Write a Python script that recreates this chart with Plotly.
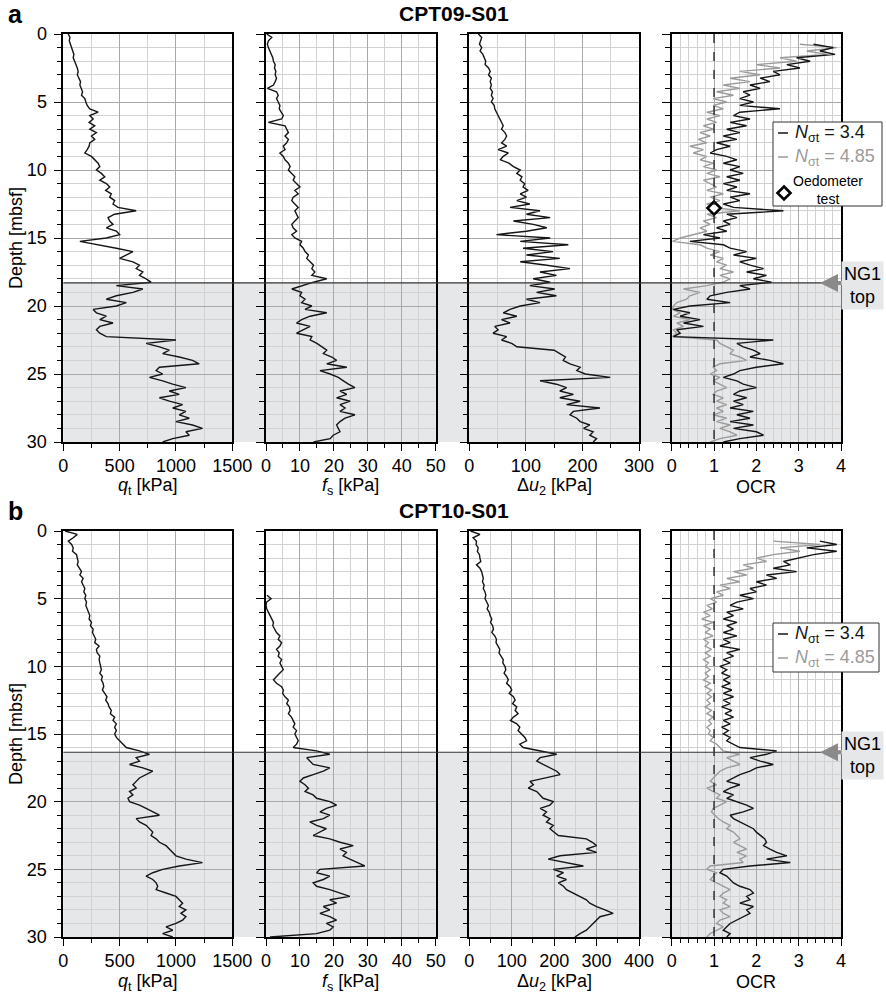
import plotly.graph_objects as go

W, H = 886, 993
FONT = "Liberation Sans, Arial, Helvetica, sans-serif"

# ---------------- data ----------------
DEPTH_STEP = 0.25
depth = [round(i * DEPTH_STEP, 2) for i in range(121)]  # 0 ... 30 mbsf

# CPT09-S01
qt_09 = [44, 59, 53, 65, 74, 82, 94, 88, 103, 112, 124, 132, 124, 141, 153, 147, 162, 171, 162, 191,
         200, 212, 235, 309, 235, 265, 229, 279, 235, 294, 250, 279, 235, 229, 212, 191, 250, 279, 309, 324,
         294, 338, 368, 324, 382, 412, 376, 426, 412, 456, 441, 485, 647, 456, 397, 412, 441, 382, 471, 500,
         382, 147, 324, 471, 618, 559, 500, 618, 676, 647, 706, 676, 735, 779, 471, 706, 618, 471, 382, 559,
         471, 265, 294, 382, 324, 441, 324, 294, 324, 382, 1000, 735, 853, 941, 882, 1029, 1147, 1206, 853, 824,
         882, 765, 882, 971, 1088, 941, 1029, 853, 941, 1059, 971, 1088, 1029, 1118, 1000, 1147, 1235, 1088, 1118, 971, 882]
fs_09 = [0.2, 1.7, 0.7, 0.4, 0.7, 1.2, 1.7, 2.0, 2.2, 2.7, 2.5, 2.9, 2.7, 3.1, 2.7, 2.2, 0.4, 3.1, 3.6, 3.1,
         3.6, 4.1, 3.9, 4.6, 5.1, 4.6, 0.7, 5.6, 6.1, 6.6, 5.6, 6.6, 6.1, 5.1, 5.6, 4.1, 5.1, 5.6, 6.6, 7.1,
         6.6, 7.6, 8.5, 8.0, 9.0, 10.0, 8.5, 9.5, 8.0, 7.6, 8.5, 9.5, 8.5, 9.0, 9.5, 8.5, 7.6, 8.0, 9.0, 7.6,
         8.5, 10.5, 10.0, 11.0, 11.5, 12.5, 12.0, 13.0, 14.0, 13.5, 14.4, 13.5, 17.9, 14.0, 10.5, 7.6, 10.5, 10.0, 11.5, 10.5,
         13.5, 11.5, 17.9, 13.0, 10.5, 9.0, 13.0, 11.0, 9.0, 13.5, 13.0, 15.0, 16.4, 17.9, 16.9, 19.4, 20.8, 17.9, 23.8, 15.9,
         18.9, 21.3, 22.8, 24.3, 26.2, 21.8, 23.8, 20.8, 24.8, 21.8, 23.3, 21.8, 26.2, 23.3, 21.8, 20.8, 21.3, 21.8, 19.8, 18.9, 14.0]
du2_09 = [16, 22, 20, 18, 22, 19, 24, 26, 29, 28, 34, 37, 34, 39, 37, 39, 37, 41, 39, 42,
          39, 44, 45, 48, 51, 54, 57, 60, 57, 63, 66, 63, 57, 66, 51, 69, 60, 55, 70, 78,
          90, 84, 93, 90, 98, 95, 104, 90, 101, 84, 107, 72, 125, 101, 143, 78, 113, 137, 101, 48,
          143, 90, 175, 95, 148, 101, 160, 90, 137, 178, 125, 154, 113, 143, 107, 151, 119, 154, 101, 125,
          90, 72, 60, 84, 57, 72, 45, 51, 42, 66, 57, 75, 84, 150, 160, 170, 166, 178, 196, 190,
          205, 249, 125, 154, 172, 160, 184, 160, 196, 172, 231, 184, 178, 190, 196, 213, 202, 219, 213, 225, 219]
ocr_09_n340 = [None, None, None, 3.35, 3.82, 3.5, 3.86, 2.95, 3.27, 2.72, 3.03, 2.4, 2.56, 2.09, 2.32, 1.85, 2.09, 1.69, 1.85, 1.61,
               1.93, 1.61, 2.56, 1.61, 1.46, 1.85, 1.38, 1.77, 1.3, 1.61, 1.22, 1.54, 1.06, 1.38, 1.06, 0.91, 1.3, 1.54, 1.22, 1.61,
               1.38, 1.69, 1.3, 1.61, 1.22, 1.54, 1.3, 1.85, 1.38, 1.61, 1.22, 1.46, 2.64, 1.3, 1.54, 1.22, 1.38, 1.06, 1.3, 0.75,
               1.14, 0.43, 1.22, 1.38, 1.77, 1.46, 2.0, 1.61, 1.85, 2.17, 1.77, 2.24, 1.93, 2.36, 1.61, 1.85, 1.3, 0.91, 0.83, 1.38,
               0.43, 0.04, 0.43, 0.2, 0.67, 0.28, 0.75, 0.12, 0.2, 0.04, 2.4, 1.54, 1.69, 1.93, 2.09, 1.85, 2.32, 2.64, 2.0, 1.61,
               1.46, 1.22, 1.54, 1.69, 2.0, 1.61, 1.46, 1.77, 1.46, 1.69, 1.38, 1.93, 1.54, 1.85, 1.38, 1.93, 1.46, 2.0, 2.17, 1.61, 1.22]
ocr_09_n485 = [None, None, None, 3.03, 3.9, 3.19, 3.66, 2.56, 2.95, 2.0, 2.56, 1.61, 2.09, 1.38, 1.85, 1.22, 1.61, 1.06, 1.46, 0.98,
               1.3, 0.98, 1.22, 0.83, 1.14, 0.83, 1.06, 0.75, 0.98, 0.67, 0.91, 0.63, 0.83, 0.43, 0.75, 0.51, 0.83, 0.67, 0.98, 0.75,
               1.06, 0.83, 1.14, 0.75, 0.91, 1.06, 0.83, 1.22, 0.91, 1.14, 0.83, 0.98, 1.61, 0.83, 1.06, 0.75, 0.91, 0.67, 0.83, 0.51,
               0.2, 0.02, 0.67, 0.83, 1.14, 0.91, 1.22, 1.06, 1.3, 1.14, 1.46, 1.14, 1.38, 1.22, 0.83, 0.28, 0.67, 0.43, 0.35, 0.12,
               0.04, 0.02, 0.2, 0.04, 0.43, 0.12, 0.28, 0.04, 0.12, 0.02, 1.06, 1.14, 1.3, 1.46, 1.38, 1.61, 1.77, 1.14, 0.98, 1.06,
               0.91, 1.14, 0.98, 1.14, 1.3, 1.06, 0.98, 1.22, 1.06, 1.3, 1.06, 1.22, 0.98, 1.3, 1.06, 1.38, 1.14, 1.38, 1.54, 1.14, 0.91]
oedometer_ocr = [1.0]
oedometer_depth = [12.8]
ng1_top_09 = 18.3

# CPT10-S01
qt_10 = [15, 124, 88, 44, 74, 88, 82, 118, 124, 132, 124, 147, 162, 147, 176, 162, 176, 191, 182, 200,
         191, 206, 200, 212, 221, 235, 229, 250, 241, 265, 259, 271, 288, 279, 318, 294, 300, 324, 318, 324,
         329, 338, 324, 347, 338, 353, 359, 347, 368, 388, 376, 397, 406, 426, 418, 456, 441, 471, 456, 471,
         456, 471, 500, 529, 559, 676, 765, 647, 676, 588, 706, 794, 735, 676, 647, 618, 647, 588, 618, 574,
         588, 676, 735, 794, 853, 647, 676, 735, 765, 794, 779, 824, 853, 912, 941, 971, 1000, 1088, 1235, 1029,
         882, 794, 735, 794, 824, 838, 824, 912, 1000, 1029, 1059, 1029, 1088, 1044, 1088, 1059, 1000, 912, 971, 882, 971]
fs_10 = [None, None, None, None, None, None, None, None, None, None,
         None, None, None, None, None, None, None, None, None, 0.3,
         1.5, 0.2, 0.0, 0.2, 0.7, 1.2, 1.7, 2.2, 2.0, 2.6, 3.1, 4.1, 3.6, 4.6, 4.1, 3.1, 3.9, 3.6, 4.6, 4.1,
         4.6, 5.1, 4.1, 3.1, 2.2, 3.1, 4.6, 5.1, 4.9, 5.6, 6.6, 6.1, 6.9, 7.1, 6.6, 7.5, 8.0, 8.5, 8.0, 9.0,
         8.5, 9.0, 9.5, 9.0, 8.0, 14.9, 18.8, 12.0, 12.9, 13.9, 18.8, 16.9, 13.9, 11.0, 10.0, 11.5, 12.5, 11.5, 13.9, 14.9,
         18.8, 20.8, 17.8, 15.9, 18.8, 16.9, 12.9, 14.9, 17.8, 15.9, 13.9, 18.8, 21.8, 25.7, 21.8, 23.7, 22.7, 24.7, 26.7, 29.1,
         15.9, 14.9, 18.8, 16.9, 13.9, 14.9, 18.8, 21.8, 24.7, 18.8, 20.8, 16.9, 18.8, 15.9, 18.8, 20.8, 17.8, 19.8, 18.8, 14.9, 1.2]
du2_10 = [3, 25, 9, 17, 16, 21, 19, 24, 25, 27, 17, 25, 29, 31, 33, 31, 35, 33, 37, 39,
          37, 41, 45, 42, 47, 49, 53, 50, 55, 57, 53, 60, 64, 63, 68, 72, 70, 76, 80, 79,
          84, 86, 82, 88, 92, 88, 96, 100, 94, 104, 108, 102, 112, 108, 115, 104, 97, 112, 119, 115,
          123, 131, 135, 119, 127, 167, 206, 167, 159, 174, 190, 206, 214, 182, 143, 151, 139, 159, 167, 174,
          198, 190, 167, 182, 174, 190, 182, 198, 190, 200, 210, 276, 290, 300, 276, 300, 214, 186, 230, 269,
          198, 222, 206, 229, 210, 222, 229, 245, 261, 276, 284, 300, 320, 339, 308, 300, 292, 284, 276, 261, 249]
ocr_10_n340 = [None, None, None, 3.5, 3.9, 3.19, 3.9, 3.35, 3.03, 2.64, 2.8, 2.4, 2.95, 2.24, 2.48, 2.0, 2.24, 1.85, 2.0, 1.61,
               1.93, 1.54, 1.38, 1.69, 1.3, 1.46, 1.22, 1.54, 1.3, 1.46, 1.22, 1.54, 1.22, 1.38, 1.14, 1.61, 1.3, 1.46, 1.22, 1.38,
               1.14, 1.3, 1.18, 1.38, 1.22, 1.38, 1.18, 1.42, 1.22, 1.46, 1.22, 1.38, 1.18, 1.42, 1.26, 1.46, 1.22, 1.38, 1.18, 1.34,
               1.22, 1.38, 1.3, 1.46, 1.61, 2.48, 2.24, 1.85, 2.09, 2.4, 2.0, 1.85, 1.61, 1.46, 1.3, 1.61, 1.38, 1.22, 1.46, 1.3,
               1.54, 1.77, 1.93, 1.69, 1.38, 1.46, 1.61, 1.77, 1.93, 2.0, 2.09, 2.2, 2.24, 2.17, 2.32, 2.48, 2.72, 2.24, 2.8, 1.85,
               1.22, 1.14, 1.3, 1.38, 1.46, 1.61, 1.85, 1.93, 1.77, 1.85, 1.61, 1.93, 1.77, 1.85, 1.69, 1.54, 1.38, 1.3, 1.22, 1.38, 1.3]
ocr_10_n485 = [None, None, None, 2.4, 3.5, 2.56, 3.03, 2.4, 2.0, 2.24, 1.69, 1.93, 1.46, 1.77, 1.3, 1.61, 1.14, 1.38, 1.06, 1.22,
               0.91, 1.06, 0.83, 0.96, 0.75, 0.91, 0.71, 0.98, 0.75, 0.91, 0.79, 0.98, 0.75, 0.87, 0.79, 0.94, 0.79, 0.91, 0.75, 0.87,
               0.79, 0.91, 0.79, 0.87, 0.75, 0.91, 0.79, 0.94, 0.83, 0.94, 0.83, 0.91, 0.79, 0.94, 0.83, 0.98, 0.87, 0.94, 0.83, 0.91,
               0.87, 0.98, 0.91, 1.06, 1.14, 1.22, 1.61, 1.3, 1.46, 1.61, 1.3, 1.14, 1.06, 0.98, 0.91, 1.06, 0.83, 0.98, 1.14, 1.06,
               1.3, 1.14, 0.98, 0.94, 1.02, 1.1, 1.22, 1.38, 1.3, 1.46, 1.54, 1.61, 1.46, 1.61, 1.77, 1.54, 1.77, 1.61, 1.69, 0.91,
               0.83, 1.06, 0.98, 0.91, 1.06, 1.22, 1.38, 1.22, 1.14, 1.3, 1.22, 1.38, 1.14, 1.22, 1.38, 1.14, 1.06, 1.22, 1.06, 0.91, 0.83]
ng1_top_10 = 16.35

site_titles = ["CPT09-S01", "CPT10-S01"]
row_letters = ["a", "b"]
x_titles = ["<i>q</i><sub>t</sub> [kPa]", "<i>f</i><sub>s</sub> [kPa]", "Δ<i>u</i><sub>2</sub> [kPa]", "OCR"]
legend_labels = ["<i>N</i><sub>σt</sub> = 3.4", "<i>N</i><sub>σt</sub> = 4.85"]

# ---------------- layout geometry (pixels) ----------------
col_px = [(63.3, 232.3), (266.0, 435.7), (469.3, 639.0), (671.7, 841.0)]
row_px = [(34.0, 442.0), (531.0, 937.0)]


def fx(p):
    return p / W


def fy(p):
    return 1 - p / H


BLACK = "#151515"
GREY = "#9b9b9b"
MAJOR_GRID = "#a9a9a9"
MINOR_GRID = "#d2d2d2"
SHADE = "#e6e7e9"
TICK_FONT = dict(size=18, family=FONT, color="black")

rows = [
    dict(curves=[[qt_09], [fs_09], [du2_09], [ocr_09_n485, ocr_09_n340]],
         xr=[[0, 1500], [0, 50], [0, 300], [0, 4]], ng1=ng1_top_09),
    dict(curves=[[qt_10], [fs_10], [du2_10], [ocr_10_n485, ocr_10_n340]],
         xr=[[0, 1500], [0, 50], [0, 400], [0, 4]], ng1=ng1_top_10),
]
x_dticks = [(500, 250), (10, 5), (100, 50), (1, 0.2)]


def note(text, x, y, size=18, color="black", **kw):
    d = dict(text=text, xref="paper", yref="paper", x=fx(x), y=fy(y), showarrow=False,
             xanchor="center", yanchor="middle", font=dict(size=size, color=color, family=FONT))
    d.update(kw)
    return d


fig = go.Figure()
layout = dict(width=W, height=H, margin=dict(l=0, r=0, t=0, b=0, pad=0), autosize=False,
              paper_bgcolor="white", plot_bgcolor="rgba(0,0,0,0)", showlegend=False,
              font=dict(family=FONT, color="black", size=18))
shapes, annotations = [], []

for r, row in enumerate(rows):
    ytop, ybot = row_px[r]
    for c in range(4):
        k = r * 4 + c + 1
        sx = "" if k == 1 else str(k)
        xd = [fx(col_px[c][0]), fx(col_px[c][1])]
        yd = [fy(ybot), fy(ytop)]
        dt, mdt = x_dticks[c]
        layout["xaxis" + sx] = dict(
            domain=xd, range=row["xr"][c], anchor="y" + sx, dtick=dt, tick0=0,
            showline=True, mirror=True, linecolor="black", linewidth=1.6,
            ticks="outside", ticklen=7, tickwidth=1.3, tickcolor="black",
            showgrid=True, gridcolor=MAJOR_GRID, gridwidth=1, zeroline=False,
            tickfont=TICK_FONT,
            minor=dict(dtick=mdt, tick0=0, ticks="outside", ticklen=4, tickwidth=1,
                       tickcolor="black", showgrid=True, gridcolor=MINOR_GRID, gridwidth=1),
            automargin=False, fixedrange=True)
        layout["yaxis" + sx] = dict(
            domain=yd, range=[30, 0], anchor="x" + sx, dtick=5, tick0=0,
            showline=True, mirror=True, linecolor="black", linewidth=1.6,
            ticks="outside", ticklen=8, tickwidth=1.3, tickcolor="black",
            showticklabels=(c == 0), ticklabelstandoff=3,
            showgrid=True, gridcolor=MAJOR_GRID, gridwidth=1, zeroline=False,
            tickfont=TICK_FONT,
            minor=dict(dtick=1, tick0=0, ticks="outside", ticklen=5, tickwidth=1,
                       tickcolor="black", showgrid=True, gridcolor=MINOR_GRID, gridwidth=1),
            automargin=False, fixedrange=True)
        curves = row["curves"][c]
        colors = [BLACK] if len(curves) == 1 else [GREY, BLACK]
        for vals, col in zip(curves, colors):
            fig.add_trace(go.Scatter(x=vals, y=depth, xaxis="x" + sx, yaxis="y" + sx, mode="lines",
                                     line=dict(color=col, width=1.4), connectgaps=False,
                                     hoverinfo="skip"))
        # axis titles
        annotations.append(note(x_titles[c], (col_px[c][0] + col_px[c][1]) / 2, ybot + 45))
        if c == 3:
            # OCR = 1 reference line
            shapes.append(dict(type="line", xref="x" + sx, yref="y" + sx, x0=1, x1=1, y0=0, y1=30,
                               line=dict(color="#1e1e1e", width=1.3, dash="dash"), layer="above"))

    y1ref = "y" if r == 0 else "y5"
    # NG1 unit shading and top boundary
    shapes.append(dict(type="rect", xref="paper", yref=y1ref, x0=fx(col_px[0][0]), x1=fx(col_px[3][1]),
                       y0=row["ng1"], y1=30, fillcolor=SHADE, line=dict(width=0), layer="below"))
    shapes.append(dict(type="line", xref="paper", yref=y1ref, x0=fx(col_px[0][0]), x1=fx(col_px[3][1]),
                       y0=row["ng1"], y1=row["ng1"], line=dict(color="#333333", width=1.2), layer="above"))
    # NG1 top label and arrow
    annotations.append(dict(text="", xref="paper", yref=y1ref, x=fx(820), y=row["ng1"],
                            axref="pixel", ayref="pixel", ax=26, ay=0, showarrow=True,
                            arrowhead=2, arrowsize=0.9, arrowwidth=4, arrowcolor="#8a8a8a"))
    annotations.append(dict(text="NG1<br>top", xref="paper", yref=y1ref, x=fx(862), y=row["ng1"],
                            showarrow=False, xanchor="center", yanchor="middle", yshift=-3,
                            bgcolor=SHADE, borderpad=2, font=dict(size=18, family=FONT)))
    # row letter, site title, depth label
    annotations.append(note("<b>%s</b>" % row_letters[r], 15, ytop - 20, size=25))
    annotations.append(note("<b>%s</b>" % site_titles[r], 454, ytop - 20, size=21))
    annotations.append(note("Depth [mbsf]", 16, (ytop + ybot) / 2, textangle=-90))

# Oedometer result
fig.add_trace(go.Scatter(x=oedometer_ocr, y=oedometer_depth, xaxis="x4", yaxis="y4", mode="markers",
                         marker=dict(symbol="diamond", size=10, color="white",
                                     line=dict(color="black", width=2.6)),
                         hoverinfo="skip"))

# legends (drawn as boxes with text)
legend_boxes = [(773, 882, 122, 206, [133, 157]), (773, 879, 623, 672, [634, 658])]
for i, (x0, x1, y0, y1, ys) in enumerate(legend_boxes):
    shapes.append(dict(type="rect", xref="paper", yref="paper", x0=fx(x0), x1=fx(x1),
                       y0=fy(y1), y1=fy(y0), fillcolor="white", line=dict(color="#333333", width=1),
                       layer="above"))
    for lab, yy, col in zip(legend_labels, ys, [BLACK, GREY]):
        shapes.append(dict(type="line", xref="paper", yref="paper", x0=fx(778), x1=fx(788),
                           y0=fy(yy), y1=fy(yy), line=dict(color=col, width=1.5), layer="above"))
        annotations.append(note(lab, 793, yy, color=col, xanchor="left"))
    if i == 0:
        cx, cy, hw, hh = 784, 193, 6.5, 6.5
        path = "M %f %f L %f %f L %f %f L %f %f Z" % (
            fx(cx), fy(cy - hh), fx(cx + hw), fy(cy), fx(cx), fy(cy + hh), fx(cx - hw), fy(cy))
        shapes.append(dict(type="path", xref="paper", yref="paper", path=path, fillcolor="white",
                           line=dict(color="black", width=2.6), layer="above"))
        annotations.append(note("Oedometer<br>test", 828, 190, size=14))

layout["shapes"] = shapes
layout["annotations"] = annotations
fig.update_layout(**layout)
fig.write_html("out.html", config={"displayModeBar": False},
               post_script="document.body.style.margin='0px';document.body.style.overflow='hidden';")
